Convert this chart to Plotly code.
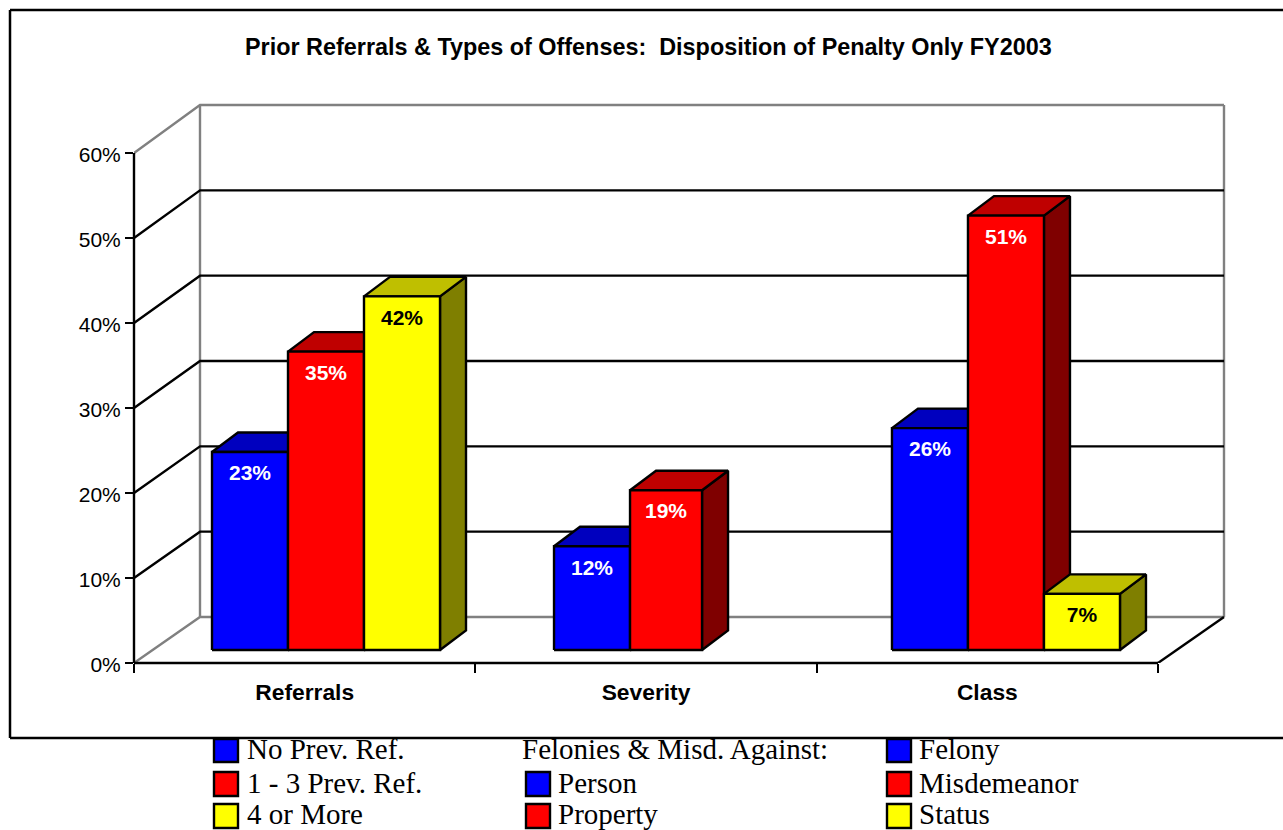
import plotly.graph_objects as go

# ---- data ----
categories = ["Referrals", "Severity", "Class"]
series_a = [23.3, 12.2, 26.1]     # blue
series_b = [35.1, 18.8, 51.1]     # red
series_c = [41.6, None, 6.6]      # yellow
tick_values = [0, 10, 20, 30, 40, 50, 60]
tick_labels = ["0%", "10%", "20%", "30%", "40%", "50%", "60%"]
title_text = "Prior Referrals &amp; Types of Offenses:  Disposition of Penalty Only FY2003"
legend_col1 = ["No Prev. Ref.", "1 - 3 Prev. Ref.", "4 or More"]
legend_col2 = ["Person", "Property"]
legend_head2 = "Felonies &amp; Misd. Against:"
legend_col3 = ["Felony", "Misdemeanor", "Status"]

# ---- styling ----
FRONT = ["#0000FF", "#FF0000", "#FFFF00"]
TOP = ["#0000BF", "#BF0000", "#BFBF00"]
SIDE = ["#00007F", "#7F0000", "#7F7F00"]
LABEL = ["white", "white", "black"]
GRAY = "#808080"
SANS = "Liberation Sans, Arial, sans-serif"
SERIF = "Liberation Serif, Times New Roman, serif"
LINE_W = 2.4

# ---- layout geometry (pixels) ----
W, H = 1283, 830
L, AXIS_R, B_PX = 134, 1158, 663
PLOT_R, T_PX = 1232, 98                 # plot area runs a little past the back wall
PX_X = (AXIS_R - L) / len(categories)   # px per category
PX_Y = 8.5                              # px per percentage point
YMAX = (B_PX - T_PX) / PX_Y
XMAX = (PLOT_R - L) / PX_X


def dx(px):
    return px / PX_X


def dy(px):
    return px / PX_Y


def px_x(px):
    return (px - L) / (PLOT_R - L)


def px_y(py):
    return (B_PX - py) / (B_PX - T_PX)


WALL_DX = dx(66)
WALL_DY = dy(46)
WALL_SCALE = 512 / 510                  # back wall spans 60% slightly taller
BAR_W = dx(76)
BAR_DX = dx(26)
BAR_DY = dy(19.5)
BAR_BASE = dy(13)
GROUP_LEFT = [dx(78), 1 + dx(78.7), 2 + dx(75.3)]
NARROW = {(1, 1): dx(72)}               # the Severity red bar is drawn narrower
LABEL_DROP = dy(23)

fig = go.Figure()


def wall_y(v):
    return WALL_DY + v * WALL_SCALE


def line_trace(xs, ys, color):
    fig.add_trace(go.Scatter(x=xs, y=ys, mode="lines", cliponaxis=False, showlegend=False,
                             hoverinfo="skip", line=dict(color=color, width=LINE_W)))


xend = len(categories)
black_x, black_y, gray_x, gray_y = [], [], [], []
for v in tick_values:
    xs = [0, WALL_DX, xend + WALL_DX, None]
    ys = [v, wall_y(v), wall_y(v), None]
    if v in (tick_values[0], tick_values[-1]):
        gray_x += xs
        gray_y += ys
    else:
        black_x += xs
        black_y += ys
for xv in (WALL_DX, xend + WALL_DX):
    gray_x += [xv, xv, None]
    gray_y += [wall_y(tick_values[0]), wall_y(tick_values[-1]), None]
black_x += [xend, xend + WALL_DX, None]
black_y += [0, wall_y(0), None]
line_trace(gray_x, gray_y, GRAY)
line_trace(black_x, black_y, "black")


def poly(xs, ys, color):
    fig.add_trace(go.Scatter(x=xs + xs[:1], y=ys + ys[:1], mode="lines", fill="toself", fillcolor=color,
                             cliponaxis=False, showlegend=False, hoverinfo="skip",
                             line=dict(color="black", width=LINE_W)))


labels_x = [[], [], []]
labels_y = [[], [], []]
labels_t = [[], [], []]
for g in range(len(categories)):
    for s, series in enumerate((series_a, series_b, series_c)):
        val = series[g]
        if val is None:
            continue
        x0 = GROUP_LEFT[g] + s * BAR_W
        x1 = x0 + NARROW.get((g, s), BAR_W)
        y0, y1 = BAR_BASE, BAR_BASE + val
        poly([x1, x1 + BAR_DX, x1 + BAR_DX, x1], [y0, y0 + BAR_DY, y1 + BAR_DY, y1], SIDE[s])
        poly([x0, x1, x1 + BAR_DX, x0 + BAR_DX], [y1, y1, y1 + BAR_DY, y1 + BAR_DY], TOP[s])
        poly([x0, x1, x1, x0], [y0, y0, y1, y1], FRONT[s])
        labels_x[s].append((x0 + x1) / 2)
        labels_y[s].append(y1 - LABEL_DROP)
        labels_t[s].append(f"{round(val)}%")

for s in range(3):
    fig.add_trace(go.Scatter(x=labels_x[s], y=labels_y[s], text=labels_t[s], mode="text",
                             textposition="middle center", cliponaxis=False, showlegend=False,
                             hoverinfo="skip",
                             textfont=dict(family=SANS, size=21, color=LABEL[s], weight="bold")))

shapes = []
# frame: left, top and bottom edges only (it runs off the right of the page)
for (x0, y0, x1, y1) in [(10, 10, 10, 738), (10, 10, W + 5, 10), (10, 738, W + 5, 738)]:
    shapes.append(dict(type="line", xref="paper", yref="paper", x0=px_x(x0), x1=px_x(x1),
                       y0=px_y(y0), y1=px_y(y1), line=dict(color="black", width=2.5)))
# axis lines
shapes.append(dict(type="line", xref="paper", yref="paper", x0=px_x(L), x1=px_x(AXIS_R),
                   y0=px_y(B_PX), y1=px_y(B_PX), line=dict(color="black", width=LINE_W)))
shapes.append(dict(type="line", xref="paper", yref="paper", x0=px_x(L), x1=px_x(L),
                   y0=px_y(B_PX), y1=px_y(B_PX - tick_values[-1] * PX_Y), line=dict(color="black", width=LINE_W)))

annotations = [dict(text=title_text, xref="paper", yref="paper", x=px_x(648), y=px_y(47),
                    xanchor="center", yanchor="middle", showarrow=False,
                    font=dict(family=SANS, size=23.4, color="black", weight="bold"))]

ROW_KEY = [(739, 762), (772, 796), (804, 828)]
ROW_TXT = [749, 783, 814]


def legend_entry(text, key_x, txt_x, row, color):
    if color:
        shapes.append(dict(type="rect", xref="paper", yref="paper", x0=px_x(key_x), x1=px_x(key_x + 24),
                           y0=px_y(ROW_KEY[row][0]), y1=px_y(ROW_KEY[row][1]), fillcolor=color,
                           line=dict(color="black", width=LINE_W)))
    annotations.append(dict(text=text, xref="paper", yref="paper", x=px_x(txt_x), y=px_y(ROW_TXT[row]),
                            xanchor="left", yanchor="middle", showarrow=False, xshift=-2,
                            font=dict(family=SERIF, size=29, color="black")))


for r, t in enumerate(legend_col1):
    legend_entry(t, 214, 247, r, FRONT[r])
legend_entry(legend_head2, 0, 522, 0, None)
for r, t in enumerate(legend_col2):
    legend_entry(t, 526, 558, r + 1, FRONT[r])
for r, t in enumerate(legend_col3):
    legend_entry(t, 887, 919, r, FRONT[r])

fig.update_layout(
    width=W, height=H, autosize=False,
    margin=dict(l=L, r=W - PLOT_R, t=T_PX, b=H - B_PX, pad=0),
    paper_bgcolor="white", plot_bgcolor="white",
    shapes=shapes, annotations=annotations, showlegend=False,
    xaxis=dict(range=[0, XMAX], tickmode="array",
               tickvals=[i + 0.5 for i in range(xend)], ticktext=categories,
               ticks="", showgrid=False, zeroline=False, showline=False,
               ticklabelstandoff=13, tickfont=dict(family=SANS, size=22.8, color="black", weight="bold"),
               minor=dict(tickmode="array", tickvals=list(range(xend + 1)), ticks="outside",
                          ticklen=9, tickwidth=2, tickcolor="black", showgrid=False)),
    yaxis=dict(range=[0, YMAX], tickmode="array", tickvals=tick_values, ticktext=tick_labels,
               ticks="outside", ticklen=8, tickwidth=2, tickcolor="black",
               showgrid=False, zeroline=False, showline=False, ticklabelshift=2,
               tickfont=dict(family=SANS, size=21, color="black")),
)

fig.write_html("out.html", config={"displayModeBar": False},
               post_script="document.body.style.margin='0';document.body.style.overflow='hidden';")
